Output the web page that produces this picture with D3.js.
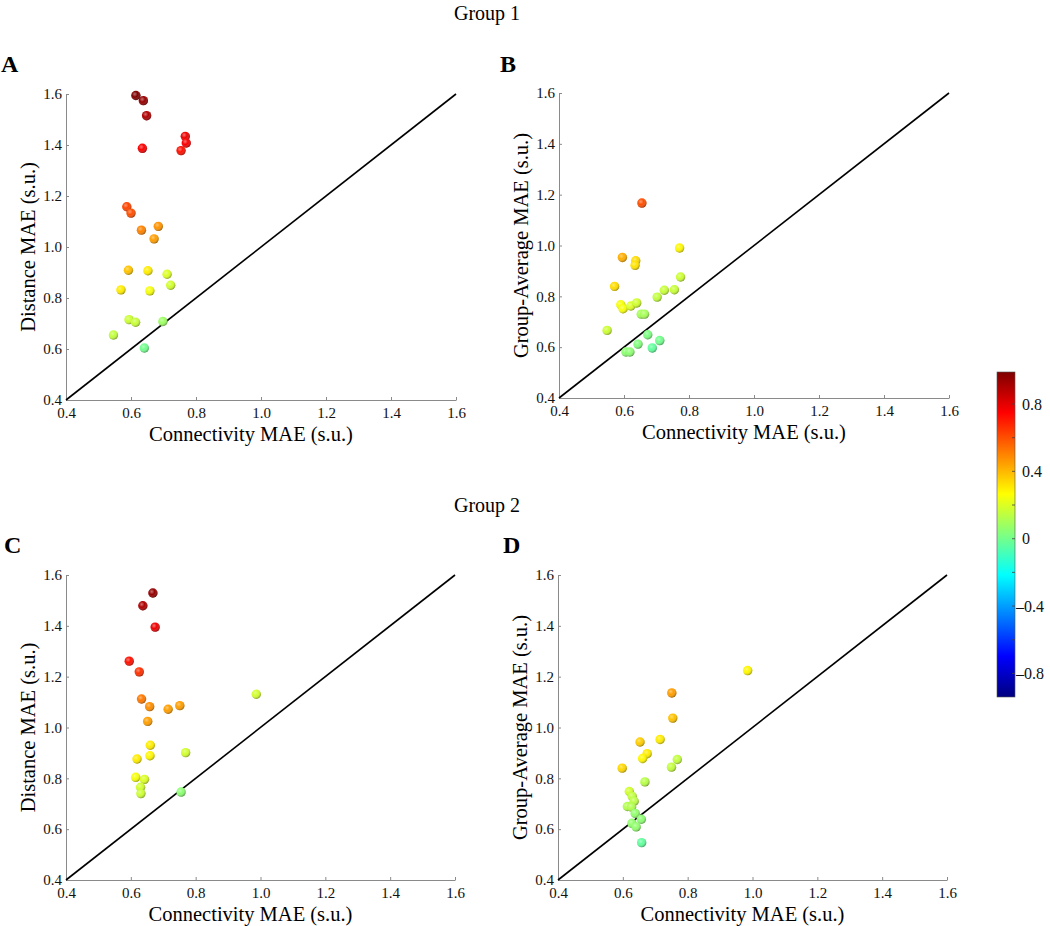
<!DOCTYPE html>
<html>
<head>
<meta charset="utf-8">
<script src="https://cdn.jsdelivr.net/npm/d3@7"></script>
<style>
  body { margin: 0; background: #fff; }
  svg { display: block; font-family: "Liberation Serif", "DejaVu Serif", serif; }
</style>
</head>
<body>
<svg width="1050" height="926"></svg>
<script>
// Group 1 / A : connectivity vs distance
const aX = [0.615, 0.638, 0.648, 0.767, 0.770, 0.754, 0.635, 0.587, 0.600, 0.632, 0.684, 0.671, 0.592, 0.652, 0.711, 0.722, 0.569, 0.658, 0.594, 0.614, 0.698, 0.546, 0.641];
const aY = [1.594, 1.574, 1.515, 1.434, 1.408, 1.378, 1.387, 1.158, 1.133, 1.066, 1.081, 1.032, 0.909, 0.907, 0.893, 0.850, 0.832, 0.828, 0.715, 0.705, 0.708, 0.655, 0.604];
const aC = [0.99, 0.95, 0.90, 0.78, 0.76, 0.72, 0.76, 0.62, 0.60, 0.50, 0.47, 0.45, 0.38, 0.30, 0.20, 0.18, 0.30, 0.25, 0.17, 0.16, 0.08, 0.15, 0.00];

// Group 1 / B : connectivity vs group-average
const bX = [0.655, 0.595, 0.636, 0.634, 0.771, 0.571, 0.774, 0.724, 0.755, 0.702, 0.590, 0.597, 0.621, 0.639, 0.653, 0.663, 0.548, 0.673, 0.710, 0.643, 0.687, 0.606, 0.618];
const bY = [1.167, 0.953, 0.940, 0.922, 0.990, 0.839, 0.876, 0.824, 0.826, 0.797, 0.767, 0.751, 0.762, 0.774, 0.730, 0.730, 0.666, 0.649, 0.626, 0.612, 0.597, 0.581, 0.581];
const bC = [0.60, 0.42, 0.33, 0.32, 0.28, 0.33, 0.17, 0.16, 0.16, 0.15, 0.25, 0.25, 0.20, 0.18, 0.10, 0.10, 0.17, 0.02, 0.00, 0.03, -0.03, 0.05, 0.05];

// Group 2 / C
const cX = [0.668, 0.637, 0.675, 0.595, 0.626, 0.633, 0.658, 0.715, 0.751, 0.652, 0.987, 0.660, 0.659, 0.619, 0.769, 0.615, 0.642, 0.630, 0.631, 0.755];
const cY = [1.529, 1.479, 1.395, 1.261, 1.219, 1.112, 1.082, 1.072, 1.086, 1.024, 1.131, 0.930, 0.889, 0.876, 0.901, 0.804, 0.796, 0.765, 0.740, 0.746];
const cC = [0.95, 0.90, 0.78, 0.72, 0.66, 0.52, 0.48, 0.45, 0.45, 0.45, 0.18, 0.30, 0.28, 0.30, 0.18, 0.25, 0.20, 0.18, 0.17, 0.05];

// Group 2 / D
const dX = [0.985, 0.751, 0.754, 0.653, 0.715, 0.598, 0.675, 0.661, 0.768, 0.750, 0.668, 0.620, 0.629, 0.635, 0.614, 0.627, 0.638, 0.657, 0.628, 0.641, 0.658];
const dY = [1.224, 1.136, 1.037, 0.943, 0.953, 0.840, 0.897, 0.878, 0.874, 0.844, 0.786, 0.748, 0.729, 0.710, 0.689, 0.687, 0.662, 0.639, 0.623, 0.609, 0.547];
const dC = [0.28, 0.45, 0.38, 0.36, 0.30, 0.34, 0.30, 0.28, 0.15, 0.15, 0.13, 0.18, 0.15, 0.14, 0.12, 0.12, 0.06, 0.05, 0.06, 0.06, -0.03];

const axisTicks = [0.4, 0.6, 0.8, 1.0, 1.2, 1.4, 1.6];
const cbarTicks = [0.8, 0.4, 0, -0.4, -0.8];
const cbarDomain = [-0.94, 0.99];

const svg = d3.select('svg');

// matlab style jet
const jet = t => {
  const c = v => Math.round(255 * Math.max(0, Math.min(1, v)));
  return d3.rgb(c(1.5 - Math.abs(4 * t - 3)), c(1.5 - Math.abs(4 * t - 2)), c(1.5 - Math.abs(4 * t - 1)));
};
const tScale = d3.scaleLinear().domain(cbarDomain).range([0, 1]).clamp(true);
const color = v => jet(tScale(v));

const defs = svg.append('defs');
const shade = defs.append('radialGradient').attr('id', 'shade')
  .attr('cx', '38%').attr('cy', '35%').attr('r', '70%');
shade.append('stop').attr('offset', '0%').attr('stop-color', '#fff').attr('stop-opacity', 0.45);
shade.append('stop').attr('offset', '45%').attr('stop-color', '#fff').attr('stop-opacity', 0);
shade.append('stop').attr('offset', '100%').attr('stop-color', '#000').attr('stop-opacity', 0.45);

// titles
svg.append('text').attr('x', 487).attr('y', 20).attr('text-anchor', 'middle')
  .style('font-size', '20px').text('Group 1');
svg.append('text').attr('x', 487).attr('y', 512).attr('text-anchor', 'middle')
  .style('font-size', '20px').text('Group 2');

const panels = [
  { id: 'A', xs: aX, ys: aY, cs: aC, left: 66, top: 94, w: 390, h: 306, lx: 1, ly: 72, ylab: 'Distance MAE (s.u.)' },
  { id: 'B', xs: bX, ys: bY, cs: bC, left: 559, top: 93, w: 390, h: 305, lx: 500, ly: 72, ylab: 'Group-Average MAE (s.u.)' },
  { id: 'C', xs: cX, ys: cY, cs: cC, left: 66, top: 575, w: 389, h: 305, lx: 4, ly: 553, ylab: 'Distance MAE (s.u.)' },
  { id: 'D', xs: dX, ys: dY, cs: dC, left: 558, top: 575, w: 389, h: 305, lx: 503, ly: 553, ylab: 'Group-Average MAE (s.u.)' }
];

panels.forEach(p => {
  const x = d3.scaleLinear().domain([0.4, 1.6]).range([0, p.w]);
  const y = d3.scaleLinear().domain([0.4, 1.6]).range([p.h, 0]);

  svg.append('text').attr('x', p.lx).attr('y', p.ly)
    .style('font-size', '24px').style('font-weight', 'bold').text(p.id);

  const g = svg.append('g').attr('transform', `translate(${p.left},${p.top})`);

  const xAxis = g.append('g').attr('transform', `translate(0,${p.h})`)
    .call(d3.axisBottom(x).tickValues(axisTicks).tickFormat(d3.format('.1f')).tickSizeInner(-3).tickSizeOuter(0).tickPadding(6));
  const yAxis = g.append('g')
    .call(d3.axisLeft(y).tickValues(axisTicks).tickFormat(d3.format('.1f')).tickSizeInner(-3).tickSizeOuter(0).tickPadding(5));
  [xAxis, yAxis].forEach(a => {
    a.select('.domain').attr('stroke', '#8a8a8a');
    a.selectAll('.tick line').attr('stroke', '#8a8a8a');
    a.selectAll('.tick text').attr('fill', '#111').style('font-size', '15px')
      .style('font-family', '"Liberation Serif", "DejaVu Serif", serif');
  });
  xAxis.selectAll('.tick text').attr('dy', '0.8em');
  yAxis.selectAll('.tick text').attr('x', -4);

  // identity line
  g.append('line')
    .attr('x1', x(0.4)).attr('y1', y(0.4)).attr('x2', x(1.6)).attr('y2', y(1.6))
    .attr('stroke', '#000').attr('stroke-width', 1.6);

  const pts = p.xs.map((v, i) => ({ x: v, y: p.ys[i], c: p.cs[i] }));
  const dot = g.selectAll('g.dot').data(pts).enter().append('g').attr('class', 'dot')
    .attr('transform', d => `translate(${x(d.x)},${y(d.y)})`);
  dot.append('circle').attr('r', 4.7).attr('fill', d => color(d.c));
  dot.append('circle').attr('r', 4.7).attr('fill', 'url(#shade)');

  g.append('text').attr('x', p.w / 2 - 10).attr('y', p.h + 41).attr('text-anchor', 'middle')
    .style('font-size', '20.5px').text('Connectivity MAE (s.u.)');
  g.append('text').attr('transform', `translate(-31,${p.h / 2}) rotate(-90)`)
    .attr('text-anchor', 'middle').style('font-size', '20.5px').text(p.ylab);
});

// colorbar
const cbX = 997, cbW = 18, cbTop = 372, cbBot = 697;
const cy = d3.scaleLinear().domain(cbarDomain).range([cbBot, cbTop]);
const grad = defs.append('linearGradient').attr('id', 'jetbar')
  .attr('x1', 0).attr('y1', 1).attr('x2', 0).attr('y2', 0);
d3.range(0, 1.0001, 1 / 64).forEach(t => {
  grad.append('stop').attr('offset', t).attr('stop-color', jet(t));
});
svg.append('rect').attr('x', cbX).attr('y', cbTop).attr('width', cbW).attr('height', cbBot - cbTop)
  .attr('fill', 'url(#jetbar)').attr('stroke', '#555').attr('stroke-width', 0.6);
const cbG = svg.append('g').attr('transform', `translate(${cbX + cbW},0)`);
cbG.selectAll('line.minor').data(d3.range(-0.8, 0.81, 0.2)).enter().append('line')
  .attr('x1', 0).attr('x2', -3).attr('y1', d => cy(d)).attr('y2', d => cy(d))
  .attr('stroke', '#444').attr('stroke-width', 0.8);
cbG.selectAll('text').data(cbarTicks).enter().append('text')
  .attr('x', d => d < 0 ? 1 : 7).attr('y', d => cy(d)).attr('dy', '0.35em')
  .style('font-size', '16px').attr('fill', '#111')
  .text(d => d === 0 ? '0' : (d < 0 ? '\u2013' + Math.abs(d).toFixed(1) : d.toFixed(1)));
</script>
</body>
</html>
